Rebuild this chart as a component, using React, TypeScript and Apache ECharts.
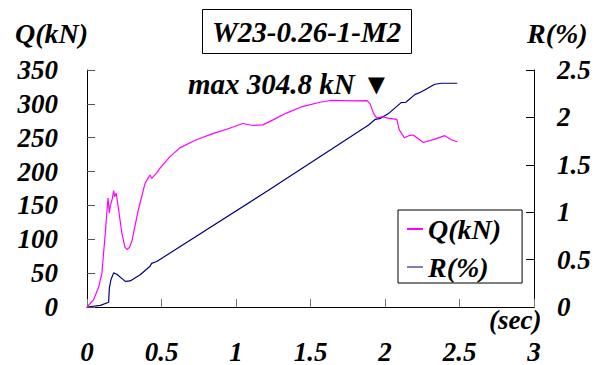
import React, { useEffect, useRef } from "react";
import * as echarts from "echarts";

const titleText = "W23-0.26-1-M2";
const maxLabel = "max 304.8 kN ▼";

// Q(kN) series: [time sec, load kN]
const qTime = [0, 0.045, 0.079, 0.1, 0.123, 0.141, 0.15, 0.157, 0.17, 0.179, 0.185, 0.196, 0.212, 0.234, 0.255, 0.268, 0.285, 0.301, 0.345, 0.39, 0.423, 0.434, 0.468, 0.49, 0.557, 0.623, 0.734, 0.845, 0.957, 1.045, 1.112, 1.18, 1.245, 1.334, 1.445, 1.557, 1.634, 1.779, 1.879, 1.9, 1.923, 1.945, 1.98, 2.02, 2.079, 2.095, 2.13, 2.16, 2.19, 2.257, 2.334, 2.401, 2.445, 2.485];
const qValue = [0, 11, 30, 50, 110, 161, 139, 150, 160, 172, 163, 168, 144, 109, 88, 85, 88, 97, 144, 183, 195, 190, 198, 205, 222, 235, 247, 256, 264, 271, 268, 269, 276, 286, 296, 302, 305, 304.5, 304.8, 300, 286, 279, 281, 279, 277, 262, 250, 253, 254, 243, 248, 253, 247, 244];

// R(%) series: [time sec, drift %]
const rTime = [0, 0.09, 0.145, 0.15, 0.161, 0.179, 0.2, 0.257, 0.29, 0.357, 0.423, 0.434, 0.468, 1.223, 1.89, 1.935, 1.97, 2.023, 2.108, 2.14, 2.2, 2.245, 2.334, 2.38, 2.485];
const rValue = [0, 0.017, 0.05, 0.2, 0.29, 0.36, 0.345, 0.27, 0.275, 0.34, 0.43, 0.46, 0.48, 1.236, 1.92, 1.98, 1.99, 2.04, 2.156, 2.16, 2.24, 2.27, 2.35, 2.36, 2.36];

const FONT = "Liberation Serif";
const txt = { fontFamily: FONT, fontWeight: "bold" as const, fontStyle: "italic" as const, fontSize: 27, color: "#000" };
const gtxt = (text: string, left: number, top: number, size = 28) => ({
  type: "text",
  left,
  top,
  style: { text, fontFamily: FONT, fontWeight: "bold", fontStyle: "italic", fontSize: size, fill: "#000" },
});

export default function App() {
  const ref = useRef<HTMLDivElement>(null);
  useEffect(() => {
    if (!ref.current) return;
    const chart = echarts.init(ref.current, undefined, { renderer: "svg" });
    const qData = qTime.map((t, i) => [t, qValue[i]]);
    const rData = rTime.map((t, i) => [t, rValue[i]]);
    chart.setOption({
      animation: false,
      backgroundColor: "#fff",
      textStyle: { fontFamily: FONT },
      title: {
        text: titleText,
        left: 202,
        top: 9,
        padding: [8, 10, 8, 10],
        borderColor: "#000",
        borderWidth: 1,
        textStyle: { ...txt, fontSize: 29 },
      },
      legend: {
        orient: "vertical",
        left: 398,
        top: 210,
        padding: [5, 21, 2, 9],
        itemGap: 10,
        itemWidth: 16,
        itemHeight: 2,
        icon: "rect",
        borderColor: "#000",
        borderWidth: 1,
        backgroundColor: "#fff",
        textStyle: { ...txt, fontSize: 28 },
        data: [
          { name: "Q(kN)", itemStyle: { color: "#ff00ff" } },
          { name: "R(%)", itemStyle: { color: "#7f7fc0" } },
        ],
      },
      grid: { left: 87, right: 73, top: 70, bottom: 58 },
      xAxis: {
        type: "value", min: 0, max: 3, interval: 0.5,
        axisLine: { lineStyle: { color: "#000", width: 1 } },
        axisTick: { inside: true, length: 8, lineStyle: { color: "#777" } },
        splitLine: { show: false },
        axisLabel: { ...txt, margin: 31, formatter: (v: number) => String(v) },
      },
      yAxis: [
        {
          type: "value", min: 0, max: 350, interval: 50,
          axisLine: { show: true, lineStyle: { color: "#000", width: 1 } },
          axisTick: { show: true, inside: true, length: 8, lineStyle: { color: "#555" } },
          splitLine: { show: false },
          axisLabel: { ...txt, margin: 29 },
        },
        {
          type: "value", min: 0, max: 2.5, interval: 0.5, position: "right",
          axisLine: { show: true, lineStyle: { color: "#000", width: 1 } },
          axisTick: { show: true, inside: true, length: 8, lineStyle: { color: "#000" } },
          splitLine: { show: false },
          axisLabel: { ...txt, margin: 23, formatter: (v: number) => String(v) },
        },
      ],
      graphic: [
        gtxt("Q(kN)", 15, 19),
        gtxt("R(%)", 527, 19),
        gtxt("(sec)", 489, 306, 27),
        gtxt(maxLabel, 188, 69, 29),
      ],
      series: [
        { name: "Q(kN)", type: "line", yAxisIndex: 0, data: qData, symbol: "none", lineStyle: { color: "#ff00ff", width: 1.2 }, itemStyle: { color: "#ff00ff" }, z: 3 },
        { name: "R(%)", type: "line", yAxisIndex: 1, data: rData, symbol: "none", lineStyle: { color: "#000080", width: 1.2 }, itemStyle: { color: "#000080" }, z: 2 },
      ],
    });
    return () => chart.dispose();
  }, []);
  return <div ref={ref} style={{ width: 607, height: 365, position: "absolute", left: 0, top: 0 }} />;
}
